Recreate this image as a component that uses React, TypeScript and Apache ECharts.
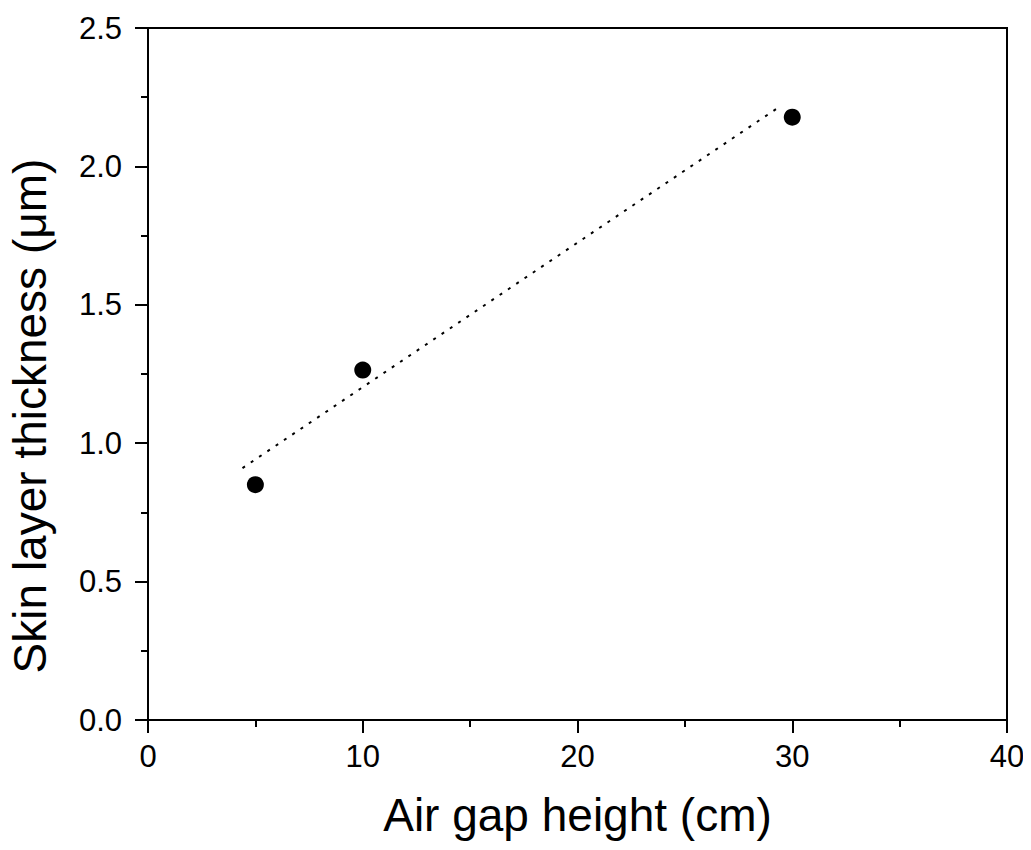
import React, { useEffect, useRef } from "react";
import * as echarts from "echarts";

const xValues = [5, 10, 30];
const yValues = [0.85, 1.264, 2.178];
const fitX = [4.4, 29.3];
const fitY = [0.91, 2.21];
const xAxisTitle = "Air gap height (cm)";
const yAxisTitle = "Skin layer thickness (μm)";

export default function App() {
  const ref = useRef<HTMLDivElement>(null);
  useEffect(() => {
    if (!ref.current) return;
    const chart = echarts.init(ref.current, null, { renderer: "svg" });
    const font = "Arial, 'Liberation Sans', sans-serif";
    chart.setOption({
      animation: false,
      backgroundColor: "#ffffff",
      grid: {
        left: 148,
        right: 24,
        top: 28,
        bottom: 130,
        show: true,
        borderColor: "#000",
        borderWidth: 2,
        backgroundColor: "transparent",
      },
      xAxis: {
        type: "value",
        min: 0,
        max: 40,
        interval: 10,
        name: xAxisTitle,
        nameLocation: "middle",
        nameGap: 72,
        nameTextStyle: { fontFamily: font, fontSize: 46, color: "#000" },
        axisLine: { show: true, lineStyle: { color: "#000", width: 2 } },
        axisTick: { show: true, inside: false, length: 13, lineStyle: { color: "#000", width: 2 } },
        minorTick: { show: true, splitNumber: 2, length: 7, lineStyle: { color: "#000", width: 2 } },
        axisLabel: { fontFamily: font, fontSize: 31, color: "#000", margin: 21 },
        splitLine: { show: false },
      },
      yAxis: {
        type: "value",
        min: 0,
        max: 2.5,
        interval: 0.5,
        axisLine: { show: true, lineStyle: { color: "#000", width: 2 } },
        axisTick: { show: true, inside: false, length: 13, lineStyle: { color: "#000", width: 2 } },
        minorTick: { show: true, splitNumber: 2, length: 7, lineStyle: { color: "#000", width: 2 } },
        axisLabel: {
          fontFamily: font,
          fontSize: 31,
          color: "#000",
          margin: 26,
          formatter: (v: number) => v.toFixed(1),
        },
        splitLine: { show: false },
      },
      graphic: [
        {
          type: "text",
          x: 30,
          y: 416,
          rotation: Math.PI / 2,
          style: {
            text: yAxisTitle,
            fontFamily: font,
            fontSize: 46,
            fill: "#000",
            textAlign: "center",
            textVerticalAlign: "middle",
          },
        },
      ],
      series: [
        {
          type: "line",
          data: fitX.map((x, i) => [x, fitY[i]]),
          symbol: "none",
          lineStyle: { color: "#000", width: 2, type: [3, 7], opacity: 1 },
          z: 2,
        },
        {
          type: "scatter",
          data: xValues.map((x, i) => [x, yValues[i]]),
          symbol: "circle",
          symbolSize: 17,
          itemStyle: { color: "#000", opacity: 1 },
          z: 3,
        },
      ],
    });
    return () => chart.dispose();
  }, []);
  return <div ref={ref} style={{ width: 1031, height: 850, marginLeft: -8, marginTop: -8 }} />;
}
